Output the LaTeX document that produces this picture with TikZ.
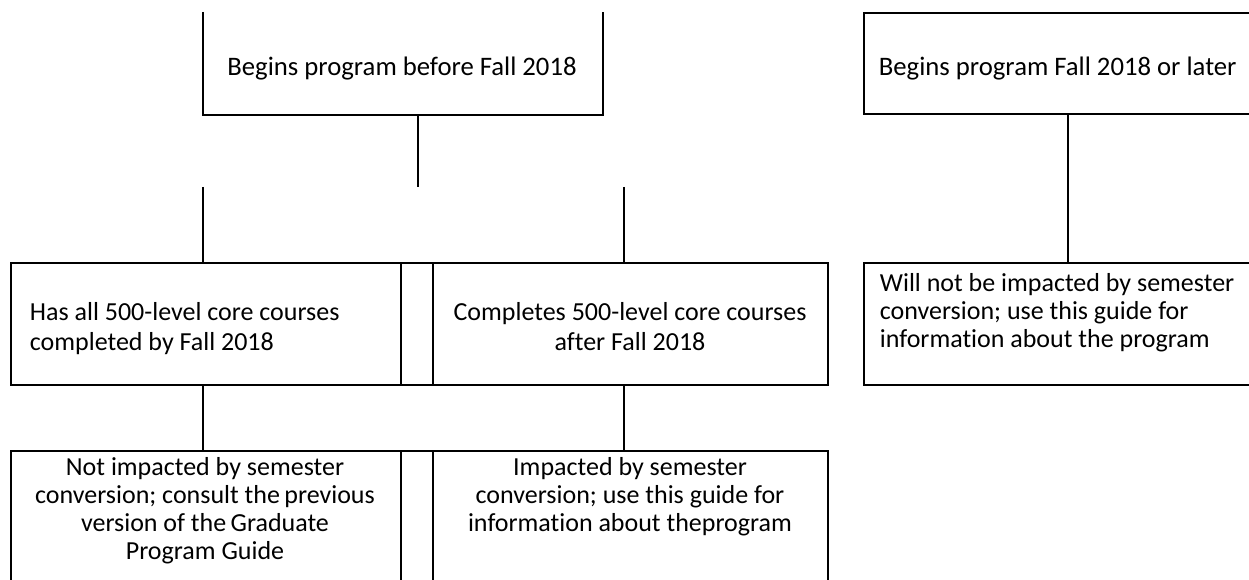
\documentclass[tikz,border=0pt]{standalone}
\usepackage{fontspec}
\setmainfont{Carlito}[Ligatures={NoCommon}]
\begin{document}
\begin{tikzpicture}[x=1pt,y=-1pt,line width=1.8pt,
  rect/.style={draw,rectangle,inner sep=0pt,anchor=north west},
  txt/.style={inner sep=0pt,font=\fontsize{26.7}{30}\selectfont},
  tx/.style={inner sep=0pt,font=\fontsize{26}{30}\selectfont},
  txr/.style={inner sep=0pt,font=\fontsize{26}{28}\selectfont},
  txb/.style={inner sep=0pt,font=\fontsize{26}{28}\selectfont}]
\useasboundingbox (0,0) rectangle (1249,580);
\clip (0,0) rectangle (1249,580);
% top row
\node[anchor=north west,inner sep=0pt,minimum width=398,minimum height=101] (b1) at (203,12) {};
\draw (b1.north west) -- (b1.south west) -- (b1.south east) -- (b1.north east);
\node[txt,anchor=base] (b1t) at (402,76) {Begins program before Fall 2018};
\node[rect,minimum width=408,minimum height=101] (b2) at (863,12) {};
\node[txt,anchor=base west] (b2t) at (878,76) {Begins program Fall 2018 or later};
% middle row
\node[rect,minimum width=390,minimum height=122] (m1) at (10,262) {};
\node[rect,minimum width=32,minimum height=122] (g1) at (400,262) {};
\node[rect,minimum width=395,minimum height=122] (m2) at (432,262) {};
\node[rect,minimum width=408,minimum height=122] (r2) at (863,262) {};
\node[tx,anchor=base west] (m1t) at (29,320) {\parbox[t]{360pt}{\raggedright Has all 500-level core courses\\completed by Fall 2018}};
\node[tx,anchor=base] (m2t) at (630,320) {\parbox[t]{390pt}{\centering Completes 500-level core courses\\after Fall 2018}};
\node[txr,anchor=base west] (r2t) at (879,291) {\parbox[t]{370pt}{\raggedright Will not be impacted by semester\\conversion; use this guide for\\information about the program}};
% bottom row
\node[rect,minimum width=390,minimum height=160] (d1) at (10,450) {};
\node[rect,minimum width=32,minimum height=160] (g2) at (400,450) {};
\node[rect,minimum width=395,minimum height=160] (d2) at (432,450) {};
\node[txb,anchor=base] (d1t) at (205,475) {\parbox[t]{385pt}{\centering Not impacted by semester\\conversion; consult the\,previous\\version of the\,Graduate\\Program Guide}};
\node[txb,anchor=base] (d2t) at (630,475) {\parbox[t]{390pt}{\centering Impacted by semester\\conversion; use this guide for\\information about theprogram}};
% connectors
\coordinate (j1) at (418,187);
\coordinate (j2) at (203,187);
\coordinate (j3) at (624,187);
\draw (j1 |- b1.south) -- (j1);
\draw (j2) -- (j2 |- m1.north);
\draw (j3) -- (j3 |- m2.north);
\draw (b2.south) -- (r2.north);
\draw (j2 |- m1.south) -- (j2 |- d1.north);
\draw (j3 |- m2.south) -- (j3 |- d2.north);
\end{tikzpicture}
\end{document}
